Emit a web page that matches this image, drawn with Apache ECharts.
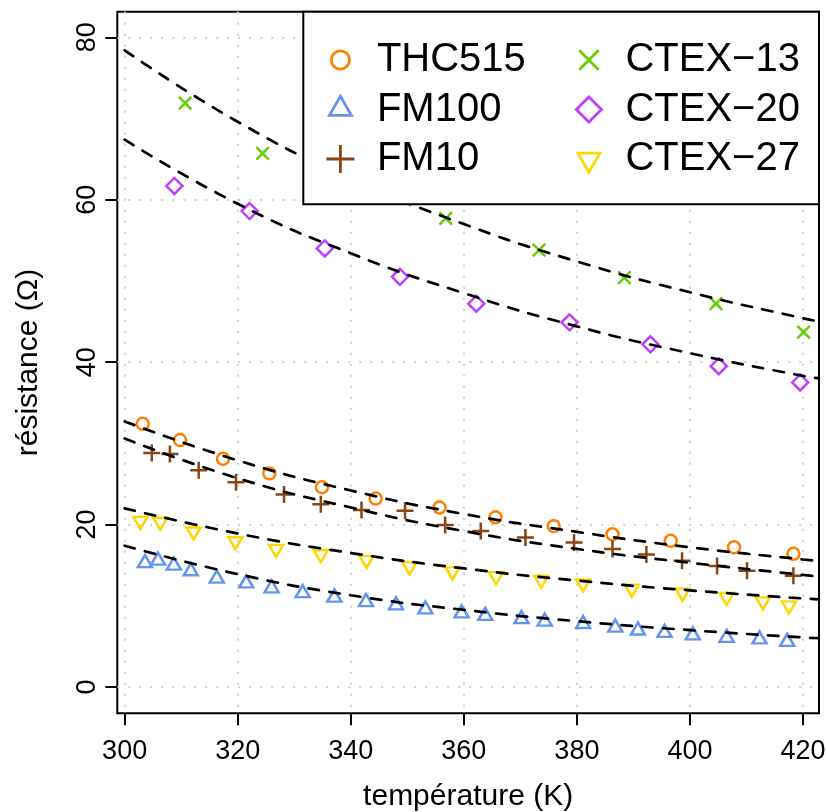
<!DOCTYPE html>
<html><head><meta charset="utf-8">
<script src="https://cdn.jsdelivr.net/npm/echarts@6/dist/echarts.min.js"></script>
<style>html,body{margin:0;padding:0;background:#fff}#c{width:826px;height:812px}</style>
</head><body><div id="c"></div>
<script>
const FONT = '"Liberation Sans", Arial, Helvetica, sans-serif';

// axis ticks
const xTicks = [300, 320, 340, 360, 380, 400, 420];
const yTicks = [0, 20, 40, 60, 80];

// measured points [temperature K, resistance Ohm]
const thc515 = [[303.2,32.4],[309.8,30.4],[317.4,28.1],[325.6,26.3],[334.9,24.6],[344.4,23.2],[355.7,22.1],[365.6,20.9],[375.9,19.8],[386.3,18.8],[396.6,18.0],[407.8,17.2],[418.3,16.4]];
const fm100 = [[303.6,15.5],[305.9,15.8],[308.7,15.2],[311.7,14.5],[316.3,13.6],[321.5,13.0],[326.0,12.4],[331.5,11.8],[337.1,11.25],[342.7,10.7],[348.0,10.3],[353.2,9.8],[359.6,9.3],[363.8,9.0],[370.2,8.6],[374.3,8.3],[381.1,8.0],[386.8,7.55],[390.8,7.2],[395.5,6.9],[400.5,6.6],[406.5,6.3],[412.3,6.1],[417.2,5.8]];
const fm10 = [[304.8,28.8],[308.0,28.7],[313.1,26.7],[319.7,25.2],[328.2,23.7],[334.7,22.5],[341.9,21.8],[349.6,21.7],[356.7,19.95],[363.0,19.2],[370.9,18.4],[379.5,17.8],[386.3,17.0],[392.3,16.3],[398.6,15.55],[404.8,14.9],[410.1,14.3],[418.3,13.7]];
const ctex13 = [[310.7,71.9],[324.4,65.7],[356.8,57.7],[373.3,53.8],[388.4,50.4],[404.6,47.2],[420.1,43.7]];
const ctex20 = [[308.8,61.7],[322.1,58.6],[335.4,54.0],[348.7,50.5],[362.2,47.2],[378.7,44.9],[393.0,42.2],[405.1,39.5],[419.5,37.5]];
const ctex27 = [[302.8,20.2],[306.3,20.1],[312.2,18.9],[319.6,17.7],[326.8,16.75],[334.7,16.1],[342.8,15.4],[350.4,14.6],[358.0,14.0],[365.7,13.4],[373.7,12.97],[381.1,12.5],[389.7,11.86],[398.7,11.37],[406.5,10.84],[412.9,10.3],[417.5,9.8]];

// fitted curves (dashed), read at these temperatures
const fitT = [300, 320, 340, 360, 380, 400, 420, 422.8];
const fitCtex13 = [78.4, 69.6, 62.6, 57.0, 52.4, 48.6, 45.4, 45.0];
const fitCtex20 = [67.4, 59.5, 53.4, 48.5, 44.4, 41.1, 38.3, 38.0];
const fitThc515 = [32.7, 27.9, 24.2, 21.3, 19.1, 17.2, 15.7, 15.5];
const fitFm10 = [30.6, 25.7, 22.1, 19.2, 17.0, 15.3, 13.8, 13.6];
const fitCtex27 = [22.0, 18.9, 16.5, 14.6, 13.1, 11.9, 10.9, 10.8];
const fitFm100 = [17.4, 13.9, 11.3, 9.5, 8.1, 7.0, 6.1, 6.0];

const names = ['THC515', 'FM100', 'FM10', 'CTEX\u221213', 'CTEX\u221220', 'CTEX\u221227'];
const colors = ['#FF7F00', '#6495ED', '#8B4513', '#66CD00', '#BF3EFF', '#FFD700'];

const plotSymbols = [
  {symbol: 'circle', size: 12, rotate: 0},
  {symbol: 'triangle', size: [14, 12], rotate: 0},
  {symbol: 'path://M0,8L16,8M8,0L8,16', size: 17, rotate: 0},
  {symbol: 'path://M0,0L12,12M12,0L0,12', size: 12.5, rotate: 0},
  {symbol: 'diamond', size: 16, rotate: 0},
  {symbol: 'triangle', size: [14, 12], rotate: 180}
];
const F = 'M0,0M28,28';
const legendIcons = [
  'path://' + F + 'M23.1,14A9.1,9.1,0,1,1,4.9,14A9.1,9.1,0,1,1,23.1,14Z',
  'path://' + F + 'M14,0.8L25,19.8L3,19.8Z',
  'path://' + F + 'M0,14L28,14M14,0L14,28',
  'path://' + F + 'M4.3,4.3L23.7,23.7M23.7,4.3L4.3,23.7',
  'path://' + F + 'M14,1.4L26.6,14L14,26.6L1.4,14Z',
  'path://' + F + 'M3,8.2L25,8.2L14,27.2Z'
];

const pointSets = [thc515, fm100, fm10, ctex13, ctex20, ctex27];
const fitSets = [fitThc515, fitFm100, fitFm10, fitCtex13, fitCtex20, fitCtex27];

const series = [];
pointSets.forEach((pts, i) => {
  series.push({
    type: 'scatter', name: names[i], data: pts,
    symbol: plotSymbols[i].symbol, symbolSize: plotSymbols[i].size, symbolRotate: plotSymbols[i].rotate,
    itemStyle: {color: 'rgba(0,0,0,0)', borderColor: colors[i], borderWidth: 2.5, opacity: 1},
    emphasis: {disabled: true}, z: 2
  });
});
fitSets.forEach((vals, i) => {
  series.push({
    type: 'line', name: 'fit' + i, data: fitT.map((t, k) => [t, vals[k]]),
    showSymbol: false, symbol: 'none', smooth: 0.5,
    lineStyle: {color: '#000', width: 2.7, type: [10.5, 10.5], cap: 'round'},
    emphasis: {disabled: true}, z: 3, silent: true
  });
});

function legendCol(idx, left) {
  return {
    show: true, orient: 'vertical', left: left, top: 40, padding: 0,
    itemWidth: 63, itemHeight: 28, itemGap: 9.5, selectedMode: false, z: 20,
    textStyle: {fontSize: 40, lineHeight: 40, color: '#000', fontFamily: FONT},
    data: idx.map(i => ({name: names[i], icon: legendIcons[i], itemStyle: {borderWidth: 2.8}}))
  };
}

const chart = echarts.init(document.getElementById('c'), null, {renderer: 'canvas'});
chart.setOption({
  animation: false,
  backgroundColor: '#fff',
  textStyle: {fontFamily: FONT},
  grid: {left: 117.3, top: 11.7, right: 7, bottom: 98.7, show: true, borderColor: '#000', borderWidth: 2, backgroundColor: 'rgba(0,0,0,0)', containLabel: false, outerBoundsMode: 'none'},
  xAxis: {
    type: 'value', min: 298.7, max: 422.83, minInterval: 20, maxInterval: 20,
    name: 'température (K)', nameLocation: 'middle', nameGap: 68,
    nameTextStyle: {fontSize: 30, color: '#000', fontFamily: FONT},
    axisLine: {show: false, onZero: false},
    axisTick: {show: true, length: 12, customValues: xTicks, lineStyle: {color: '#000', width: 2}},
    axisLabel: {show: true, customValues: xTicks, margin: 25, fontSize: 27, color: '#000', fontFamily: FONT},
    splitLine: {show: true, lineStyle: {color: '#cfcfcf', width: 2, type: [2, 9]}}
  },
  yAxis: {
    type: 'value', min: -3.24, max: 83.15, minInterval: 20, maxInterval: 20,
    name: 'résistance (\u03A9)', nameLocation: 'middle', nameGap: 74, nameRotate: 90,
    nameTextStyle: {fontSize: 30, color: '#000', fontFamily: FONT},
    axisLine: {show: false, onZero: false},
    axisTick: {show: true, length: 12, customValues: yTicks, lineStyle: {color: '#000', width: 2}},
    axisLabel: {show: true, customValues: yTicks, rotate: 90, margin: 16, fontSize: 27, color: '#000', fontFamily: FONT},
    splitLine: {show: true, lineStyle: {color: '#cfcfcf', width: 2, type: [2, 9]}}
  },
  legend: [legendCol([0, 1, 2], 325), legendCol([3, 4, 5], 573.5)],
  graphic: {elements: [{type: 'rect', z: 10, shape: {x: 303.3, y: 11.7, width: 515.7, height: 192.6}, style: {fill: '#fff', stroke: '#000', lineWidth: 2}}]},
  series: series
});
</script>
</body></html>
